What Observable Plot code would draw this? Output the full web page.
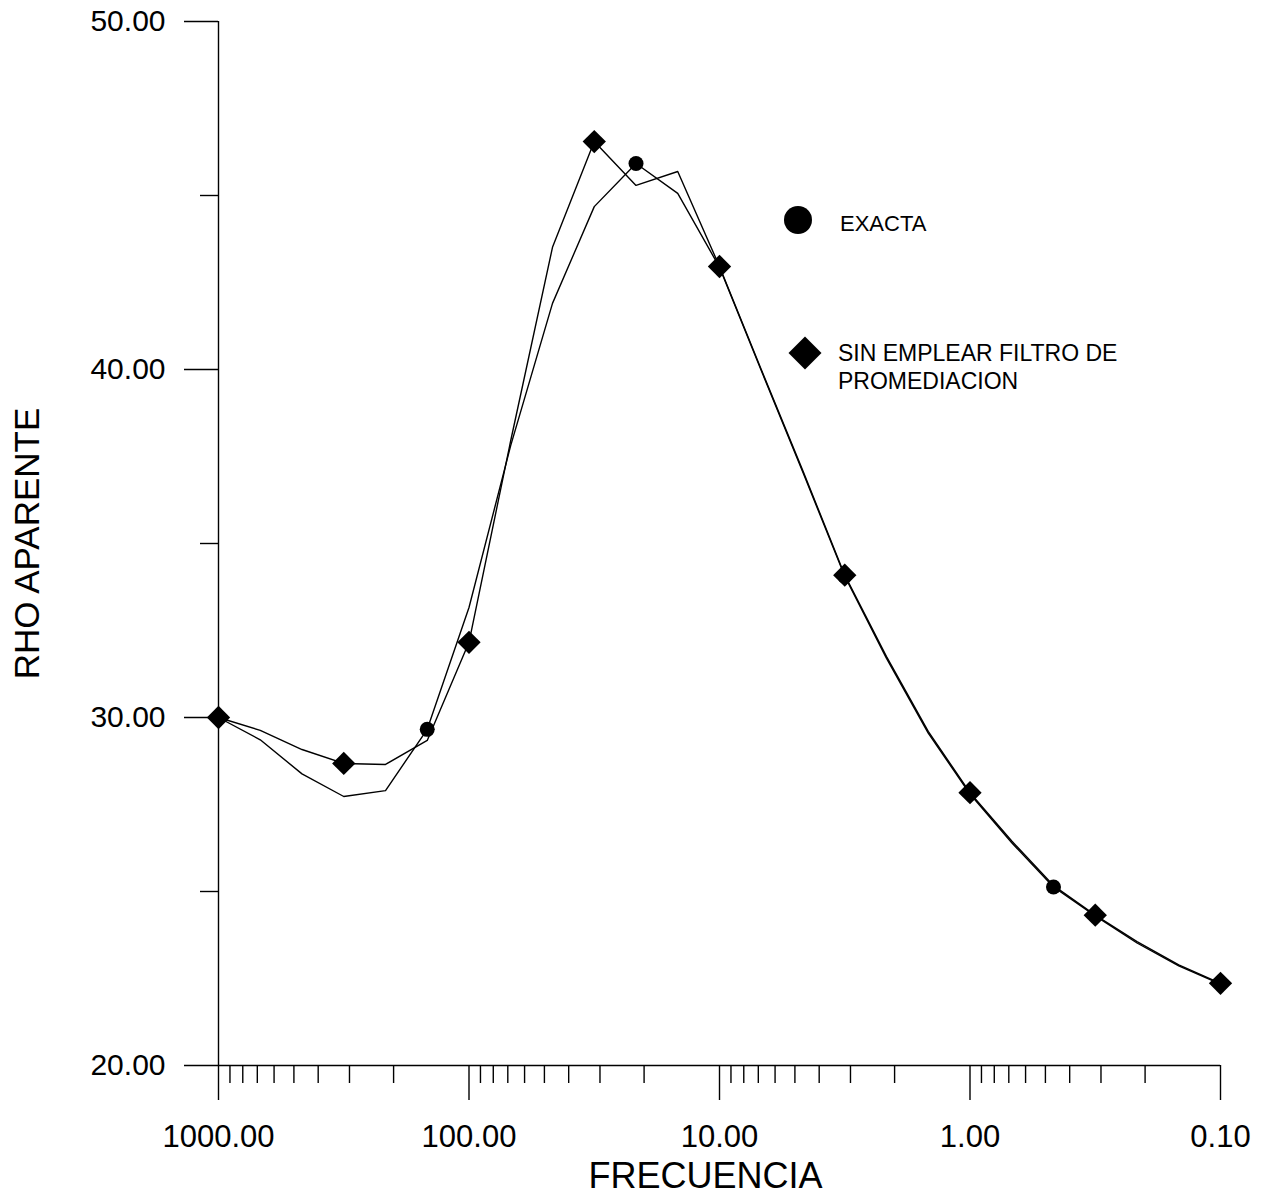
<!DOCTYPE html>
<html>
<head>
<meta charset="utf-8">
<script src="https://cdn.jsdelivr.net/npm/d3@7"></script>
<script src="https://cdn.jsdelivr.net/npm/@observablehq/plot@0.6"></script>
<style>
  html, body { margin: 0; padding: 0; background: white; }
  #wrap { position: relative; width: 1263px; height: 1197px; }
  #legend { position: absolute; left: 0; top: 0; pointer-events: none; }
</style>
</head>
<body>
<div id="wrap"></div>
<script>
// Frequencies (Hz), six samples per decade, from 1000 down to 0.1
const freq = [1000, 681.3, 464.2, 316.2, 215.4, 146.8, 100, 68.13, 46.42, 31.62, 21.54, 14.68,
              10, 6.813, 4.642, 3.162, 2.154, 1.468, 1, 0.6813, 0.4642, 0.3162, 0.2154, 0.1468, 0.1];
// Apparent resistivity, exact solution
const rhoExacta = [30.0, 29.36, 28.38, 27.73, 27.90, 29.66, 33.16, 37.82, 41.90, 44.68, 45.92, 45.06,
                   42.94, 39.97, 37.04, 34.06, 31.70, 29.55, 27.80, 26.40, 25.13, 24.30, 23.52, 22.86, 22.34];
// Apparent resistivity, without averaging filter
const rhoSinFiltro = [30.0, 29.63, 29.08, 28.68, 28.65, 29.34, 32.16, 37.96, 43.51, 46.55, 45.29, 45.69,
                      42.96, 40.00, 37.08, 34.09, 31.75, 29.60, 27.84, 26.45, 25.17, 24.32, 23.56, 22.89, 22.36];
// indices that carry a marker
const exactaMarkerIdx = [0, 5, 10, 15, 20];
const sinFiltroMarkerIdx = [0, 3, 6, 9, 12, 15, 18, 21, 24];

// axis ticks
const xMajorTicks = [1000, 100, 10, 1, 0.1];
const xMinorTicks = [900, 800, 700, 600, 500, 400, 300, 200,
                     90, 80, 70, 60, 50, 40, 30, 20,
                     9, 8, 7, 6, 5, 4, 3, 2,
                     0.9, 0.8, 0.7, 0.6, 0.5, 0.4, 0.3, 0.2];
const yMajorTicks = [20, 30, 40, 50];
const yMinorTicks = [25, 35, 45];

const data = freq.map((f, i) => ({f, exacta: rhoExacta[i], sin: rhoSinFiltro[i]}));
const exactaMarkers = exactaMarkerIdx.map(i => data[i]);
const sinMarkers = sinFiltroMarkerIdx.map(i => data[i]);

const fmt = d => d.toFixed(2);
const font = "'Liberation Sans', Arial, Helvetica, sans-serif";

const chart = Plot.plot({
  width: 1263,
  height: 1197,
  marginLeft: 218,
  marginRight: 43,
  marginTop: 21,
  marginBottom: 132,
  style: {fontFamily: font, background: "white", color: "black", overflow: "visible"},
  x: {type: "log", domain: [1000, 0.1], axis: null},
  y: {domain: [20, 50], axis: null},
  marks: [
    Plot.ruleX([1000], {stroke: "black", strokeWidth: 1.4}),
    Plot.ruleY([20], {stroke: "black", strokeWidth: 1.4}),
    Plot.axisX({ticks: xMajorTicks, tickSize: 35, tickPadding: 24, tickFormat: fmt, fontSize: 31, label: null, strokeWidth: 1.4}),
    Plot.axisX({ticks: xMinorTicks, tickSize: 18, tickFormat: () => "", label: null, strokeWidth: 1.4}),
    Plot.axisY({ticks: yMajorTicks, tickSize: 34, tickPadding: 19, tickFormat: fmt, fontSize: 30, label: null, strokeWidth: 1.4}),
    Plot.axisY({ticks: yMinorTicks, tickSize: 18, tickFormat: () => "", label: null, strokeWidth: 1.4}),
    Plot.line(data, {x: "f", y: "sin", stroke: "black", strokeWidth: 1.4}),
    Plot.line(data, {x: "f", y: "exacta", stroke: "black", strokeWidth: 1.4}),
    Plot.dot(exactaMarkers, {x: "f", y: "exacta", r: 7.5, fill: "black", stroke: "none"}),
    Plot.dot(sinMarkers, {x: "f", y: "sin", symbol: "square", rotate: 45, r: 9.3, fill: "black", stroke: "none"}),
    Plot.text(["RHO APARENTE"], {frameAnchor: "left", dx: -191, rotate: -90, fontSize: 35, textAnchor: "middle", lineAnchor: "middle"}),
    Plot.text(["FRECUENCIA"], {frameAnchor: "bottom", dx: -14, dy: 111, fontSize: 36, textAnchor: "middle", lineAnchor: "middle"})
  ]
});

const wrap = document.getElementById("wrap");
wrap.appendChild(chart);

// Legend (overlay)
const legendItems = [
  {symbol: "circle", lines: ["EXACTA"]},
  {symbol: "diamond", lines: ["SIN EMPLEAR FILTRO DE", "PROMEDIACION"]}
];
const lg = d3.create("svg")
  .attr("id", "legend")
  .attr("width", 1263)
  .attr("height", 1197)
  .style("font-family", font);
// circle item
lg.append("circle").attr("cx", 798).attr("cy", 220).attr("r", 14).attr("fill", "black");
lg.append("text").attr("x", 840).attr("y", 231).attr("font-size", 22).text(legendItems[0].lines[0]);
// diamond item
const s = 16.5;
lg.append("path").attr("d", `M805,${353 - s}L${805 + s},353L805,${353 + s}L${805 - s},353Z`).attr("fill", "black");
legendItems[1].lines.forEach((t, k) => {
  lg.append("text").attr("x", 838).attr("y", 361 + k * 28).attr("font-size", 23).text(t);
});
wrap.appendChild(lg.node());
</script>
</body>
</html>
